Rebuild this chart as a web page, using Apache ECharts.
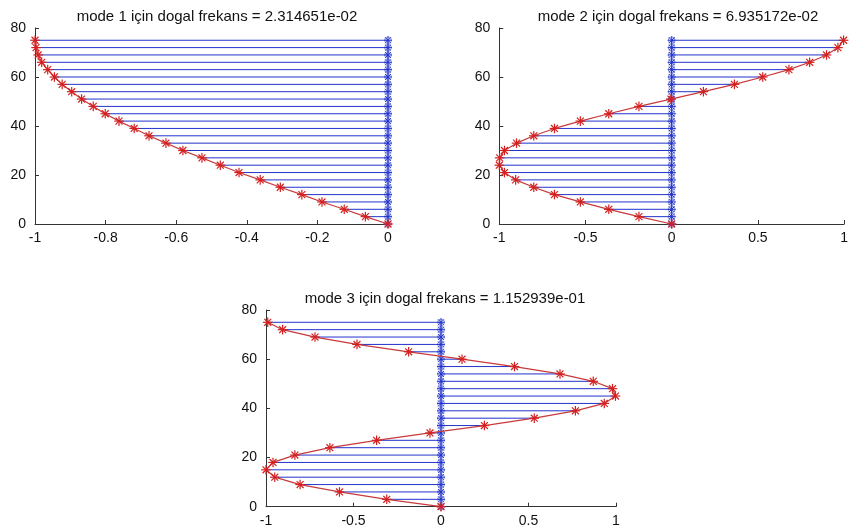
<!DOCTYPE html>
<html>
<head>
<meta charset="utf-8">
<script src="https://cdn.jsdelivr.net/npm/echarts@6/dist/echarts.min.js"></script>
<style>html,body{margin:0;padding:0;background:#fff}#c{width:851px;height:532px}</style>
</head>
<body>
<div id="c"></div>
<script>
// Heights of the nodes (shared by all modes)
var heights = [0,3,6,9,12,15,18,21,24,27,30,33,36,39,42,45,48,51,54,57,60,63,66,69,72,75];
// Mode shapes
var mode1 = [0,-0.064,-0.124,-0.187,-0.244,-0.305,-0.362,-0.422,-0.475,-0.527,-0.581,-0.629,-0.677,-0.719,-0.762,-0.801,-0.835,-0.868,-0.896,-0.923,-0.945,-0.964,-0.981,-0.991,-0.997,-1.0];
var mode2 = [0,-0.19,-0.365,-0.53,-0.68,-0.80,-0.905,-0.97,-1.0,-0.998,-0.97,-0.90,-0.80,-0.68,-0.53,-0.365,-0.19,-0.005,0.184,0.364,0.528,0.68,0.80,0.898,0.964,0.997];
var mode3 = [0,-0.31,-0.58,-0.805,-0.95,-1.0,-0.96,-0.835,-0.635,-0.368,-0.063,0.248,0.533,0.768,0.933,0.997,0.98,0.87,0.68,0.42,0.12,-0.185,-0.48,-0.72,-0.905,-0.99];
var titles = ["mode 1 için dogal frekans = 2.314651e-02","mode 2 için dogal frekans = 6.935172e-02","mode 3 için dogal frekans = 1.152939e-01"];
var xTicks1 = {min:-1,max:0,interval:0.2};
var xTicks23 = {min:-1,max:1,interval:0.5};
var yTicks = {min:0,max:80,interval:20};

var BLUE = '#2233cc', RED = '#d42020', CURVE = '#c83a3a', AXIS = '#333333';
var chart = echarts.init(document.getElementById('c'));

function star(cx, cy, r, color, w) {
  var d = r * 0.72, out = [];
  var segs = [[cx-r,cy,cx+r,cy],[cx,cy-r,cx,cy+r],[cx-d,cy-d,cx+d,cy+d],[cx-d,cy+d,cx+d,cy-d]];
  segs.forEach(function(s){
    out.push({type:'line', shape:{x1:s[0],y1:s[1],x2:s[2],y2:s[3]}, style:{stroke:color, lineWidth:w||1}});
  });
  return out;
}

var grids = [
  {left:35, right:463, top:28, bottom:308},
  {left:499.3, right:-0.3, top:28, bottom:308},
  {left:266, right:235, top:310, bottom:25.3}
];
var modes = [mode1, mode2, mode3];
var xt = [xTicks1, xTicks23, xTicks23];
var centers = [[212,13],[673,13],[440,295]];

var option = {animation:false, grid:grids, xAxis:[], yAxis:[], series:[], title:[]};
var axisCommon = {
  axisLine:{show:true, onZero:false, lineStyle:{color:AXIS, width:1}},
  axisTick:{show:true, inside:true, length:4, lineStyle:{color:AXIS}},
  splitLine:{show:false},
  axisLabel:{color:'#111', fontFamily:'Liberation Sans, Arial, sans-serif', fontSize:14}
};
for (var g = 0; g < 3; g++) {
  option.title.push({text:titles[g], left:centers[g][0], top:centers[g][1]-9, textAlign:'center',
    textStyle:{fontFamily:'Liberation Sans, Arial, sans-serif', fontSize:15, fontWeight:'normal', color:'#111'}});
  option.xAxis.push(Object.assign({type:'value', gridIndex:g, min:xt[g].min, max:xt[g].max, interval:xt[g].interval}, JSON.parse(JSON.stringify(axisCommon)), {axisLabel:Object.assign({}, axisCommon.axisLabel, {margin:7, showMinLabel:true, showMaxLabel:true})}));
  option.yAxis.push(Object.assign({type:'value', gridIndex:g, min:yTicks.min, max:yTicks.max, interval:yTicks.interval}, JSON.parse(JSON.stringify(axisCommon)), {axisLabel:Object.assign({}, axisCommon.axisLabel, {margin:9})}));
  var data = heights.map(function(h, i){ return [modes[g][i], h]; });
  // vertical blue line at x = 0
  option.series.push({type:'line', xAxisIndex:g, yAxisIndex:g, data:[[0,heights[0]],[0,heights[heights.length-1]]],
    symbol:'none', lineStyle:{color:BLUE, width:1}, z:2});
  // horizontal blue lines and blue markers at x = 0
  option.series.push({type:'custom', xAxisIndex:g, yAxisIndex:g, data:data, z:3, clip:false,
    renderItem:function(params, api){
      var x = api.value(0), y = api.value(1);
      var p0 = api.coord([0, y]), p1 = api.coord([x, y]);
      var ch = [{type:'line', shape:{x1:p0[0],y1:p0[1],x2:p1[0],y2:p1[1]}, style:{stroke:BLUE, lineWidth:1}}];
      ch.push({type:'circle', shape:{cx:p0[0], cy:p0[1], r:3.4}, style:{fill:null, stroke:'#8893dd', lineWidth:1}});
      ch = ch.concat(star(p0[0], p0[1], 4, BLUE, 1));
      return {type:'group', children:ch};
    }});
  // red curve
  option.series.push({type:'line', xAxisIndex:g, yAxisIndex:g, data:data, symbol:'none',
    lineStyle:{color:CURVE, width:1.2}, z:4});
  // red star markers
  option.series.push({type:'custom', xAxisIndex:g, yAxisIndex:g, data:data, z:5, clip:false,
    renderItem:function(params, api){
      var p = api.coord([api.value(0), api.value(1)]);
      return {type:'group', children:star(p[0], p[1], 4.8, RED, 1.2)};
    }});
}
chart.setOption(option);
</script>
</body>
</html>
